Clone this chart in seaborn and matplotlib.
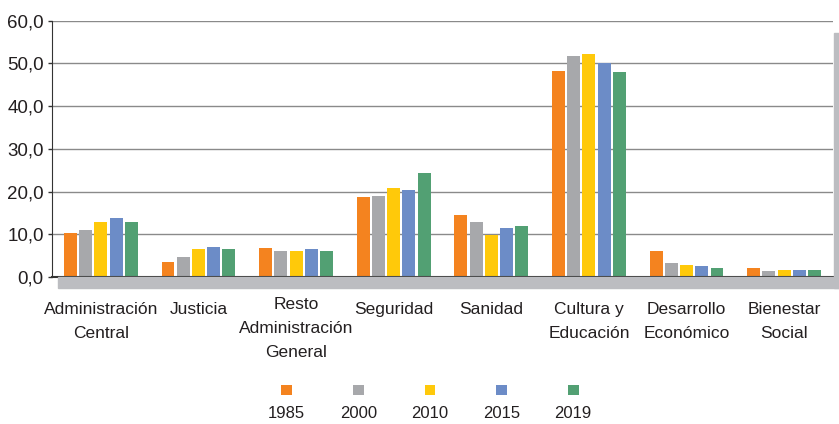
import pandas as pd
import matplotlib.pyplot as plt
import seaborn as sns
from matplotlib.patches import Rectangle

# Datos (porcentaje por área de gasto)
categorias = ['Administración\nCentral', 'Justicia', 'Resto\nAdministración\nGeneral',
              'Seguridad', 'Sanidad', 'Cultura y\nEducación', 'Desarrollo\nEconómico',
              'Bienestar\nSocial']
anios = ['1985', '2000', '2010', '2015', '2019']
v1985 = [10.2, 3.4, 6.7, 18.7, 14.4, 48.2, 6.0, 2.0]
v2000 = [10.9, 4.6, 6.0, 18.9, 12.8, 51.7, 3.2, 1.3]
v2010 = [12.8, 6.5, 6.0, 20.8, 9.8, 52.2, 2.7, 1.6]
v2015 = [13.7, 7.0, 6.5, 20.3, 11.4, 50.1, 2.5, 1.6]
v2019 = [12.8, 6.5, 6.0, 24.3, 11.9, 47.9, 2.0, 1.6]
colores = ['#F4831F', '#A7A8AB', '#FFC90A', '#6C8CC7', '#52A073']

series = [v1985, v2000, v2010, v2015, v2019]
df = pd.DataFrame([
    {'categoria': c, 'anio': a, 'valor': v}
    for a, vals in zip(anios, series)
    for c, v in zip(categorias, vals)
])

plt.rcParams['font.family'] = ['Liberation Sans', 'DejaVu Sans']
texto = '#231f20'

fig = plt.figure(figsize=(8.39, 4.24), dpi=100)
ax = fig.add_axes([52 / 839, 1 - 277 / 424, (833 - 52) / 839, (277 - 20.7) / 424])

# bandas grises de "sombra" bajo el eje y a la derecha
banda = '#bcbdc1'
fig.patches.append(Rectangle((58 / 839, 1 - 288 / 424), 1 - 58 / 839, 11 / 424,
                             transform=fig.transFigure, color=banda, zorder=0))
fig.patches.append(Rectangle((834 / 839, 1 - 288 / 424), 5 / 839, (288 - 33) / 424,
                             transform=fig.transFigure, color=banda, zorder=0))

sns.barplot(data=df, x='categoria', y='valor', hue='anio', palette=colores,
            width=0.78, gap=0.15, linewidth=0, saturation=1, legend=False, ax=ax)

ax.set_xlim(-0.5, 7.5)
ax.set_ylim(0, 60)
ax.set_yticks(range(0, 61, 10))
ax.set_yticklabels([f'{t},0' for t in range(0, 61, 10)], fontsize=13.5, color=texto)
ax.set_xticks(range(len(categorias)))
ax.set_xticklabels(categorias, fontsize=12.5, color=texto, linespacing=1.75, va='top')
ax.tick_params(axis='x', length=0, pad=18)
ax.tick_params(axis='y', length=3, width=1, color='#333333', pad=3)
# la etiqueta de tres líneas arranca un poco más arriba
ax.get_xticklabels()[2].set_y(0.02)
ax.set_xlabel('')
ax.set_ylabel('')
ax.yaxis.grid(True, color='#8a8a8a', linewidth=1)
ax.set_axisbelow(True)
for s in ['top', 'right']:
    ax.spines[s].set_visible(False)
ax.spines['left'].set_color('#333333')
ax.spines['bottom'].set_color('#333333')
ax.spines['bottom'].set_linewidth(1.5)
ax.patch.set_alpha(0)

# leyenda: cuadro de color encima del año
lax = fig.add_axes([251 / 839, 1 - 400 / 424, 358 / 839, 20 / 424])
lax.scatter(range(len(anios)), [0.5] * len(anios), c=colores, marker='s', s=62, linewidths=0)
lax.set_xlim(-0.5, len(anios) - 0.5)
lax.set_ylim(0, 1)
lax.set_xticks(range(len(anios)))
lax.set_xticklabels(anios, fontsize=12, color=texto)
lax.tick_params(axis='x', length=0, pad=4)
lax.set_yticks([])
for s in lax.spines.values():
    s.set_visible(False)
lax.patch.set_alpha(0)

fig.savefig('out.png', dpi=100)
